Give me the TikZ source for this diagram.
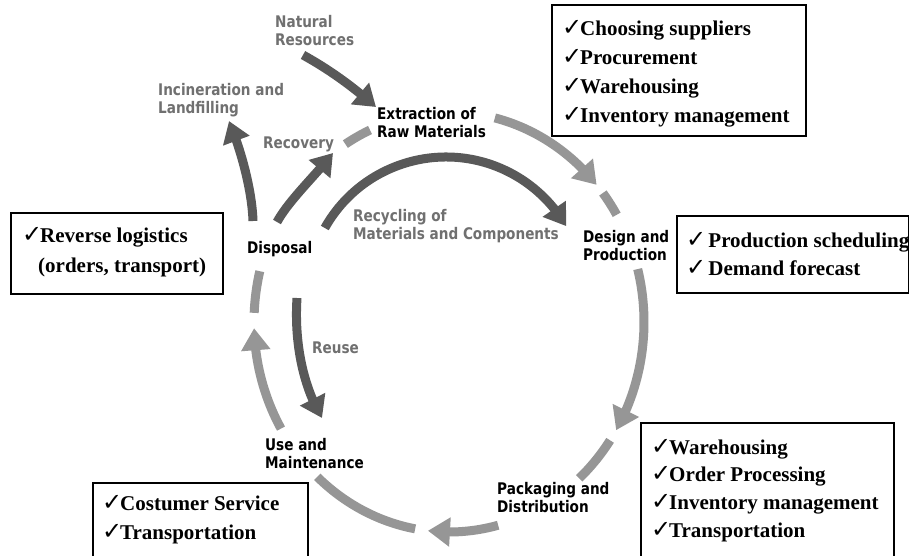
\documentclass[tikz,border=0pt]{standalone}
\usepackage{fontspec}
\setmainfont{Liberation Serif}
\newfontfamily\lblfont{DejaVu Sans}[FakeStretch=0.85]
\newfontfamily\symfont{DejaVu Sans}
\usetikzlibrary{arrows.meta,bending,calc}
\definecolor{cyclegray}{HTML}{969696}
\definecolor{darkarrow}{HTML}{595959}
\definecolor{labelgray}{HTML}{707070}
\newcommand{\ckm}[1][18pt]{\makebox[#1][l]{\smash{\fontsize{24}{24}\symfont ✓}}}
\newcommand{\lstrut}{\rule{0pt}{12.2pt}}
\newcommand{\bstrut}{\rule{0pt}{15pt}}
\tikzset{
  stage/.style={inner sep=0pt, anchor=north west, align=left, text=black,
    font=\fontsize{16}{18}\lblfont\bfseries},
  graylbl/.style={stage, text=labelgray},
  cyc/.style={draw=cyclegray, line width=9pt},
  cycarrow/.style={cyc, -{Triangle[width=28pt,length=22pt]}},
  darkarr/.style={draw=darkarrow, line width=9pt, -{Triangle[width=27pt,length=21pt]}},
  infobox/.style={draw=black, line width=2pt, anchor=north west, inner sep=0pt},
  boxtext/.style={inner sep=0pt, anchor=north west, align=left,
    font=\fontsize{21}{#1}\selectfont\bfseries},
}
\begin{document}
\begin{tikzpicture}[x=1pt,y=-1pt]
\useasboundingbox (0,0) rectangle (909,555);
\fill[white] (0,0) rectangle (909,555);

% centres of the cycle and of the recycling arc
\coordinate (C) at (449,322);
\coordinate (RC) at (446,296);

% stage labels
\node[stage] (ext) at (377,106.8) {\lstrut Extraction of\\Raw Materials};
\node[stage] (des) at (583,229.8) {\lstrut Design and\\Production};
\node[stage] (pkg) at (497,481.8) {\lstrut Packaging and\\Distribution};
\node[stage] (use) at (265,437.8) {\lstrut Use and\\Maintenance};
\node[stage] (dis) at (247,240.8) {\lstrut Disposal};

% gray labels
\node[graylbl] (nat) at (275,14.8) {\lstrut Natural\\Resources};
\node[graylbl] (inc) at (158,82.8) {\lstrut Incineration and\\Landfilling};
\node[graylbl] (rec) at (263,135.8) {\lstrut Recovery};
\node[graylbl] (recyc) at (353,208.8) {\lstrut Recycling of\\Materials and Components};
\node[graylbl] (reu) at (312,340.8) {\lstrut Reuse};

% main cycle
\draw[cycarrow] ($(C)+(-76.4:195 and 210)$) arc[start angle=-76.4, end angle=-40.8, x radius=195, y radius=210];
\draw[cyc] ($(C)+(-37.9:195 and 210)$) arc[start angle=-37.9, end angle=-30.7, x radius=195, y radius=210];
\draw[cycarrow] ($(C)+(-14.6:195 and 210)$) arc[start angle=-14.6, end angle=31.0, x radius=195, y radius=210];
\draw[cyc] ($(C)+(34.3:195 and 210)$) arc[start angle=34.3, end angle=48.1, x radius=195, y radius=210];
\draw[cycarrow] ($(C)+(75.4:195 and 210)$) arc[start angle=75.4, end angle=96.2, x radius=195, y radius=210];
\draw[cyc] ($(C)+(100:195 and 210)$) arc[start angle=100, end angle=132.5, x radius=195, y radius=210];
\draw[cycarrow] ($(C)+(149.5:195 and 210)$) arc[start angle=149.5, end angle=178.3, x radius=195, y radius=210];
\draw[cyc] ($(C)+(182.5:195 and 210)$) arc[start angle=182.5, end angle=194, x radius=195, y radius=210];
\draw[cyc] ($(C)+(237.9:195 and 210)$) arc[start angle=237.9, end angle=246.1, x radius=195, y radius=210];

% dark arrows
\coordinate (natS) at (303,55);
\coordinate (natE) at (376,107);
\draw[darkarr] (natS) .. controls (330,70) and (352,86) .. (natE);
\coordinate (incS) at (253,221);
\coordinate (incE) at (229,121);
\draw[darkarr] (incS) .. controls (252,190) and (241,150) .. (incE);
\coordinate (recS) at (277,222);
\coordinate (recE) at (333,153);
\draw[darkarr] (recS) .. controls (289,200) and (316,175) .. (recE);
\draw[darkarr] ($(RC)+(-150.7:139)$) arc[start angle=-150.7, end angle=-30.2, radius=139];
\coordinate (reuS) at (297,298);
\coordinate (reuE) at (322,418);
\draw[darkarr] (reuS) .. controls (294,345) and (304,388) .. (reuE);

% info boxes
\node[infobox, minimum width=254, minimum height=131] (b1) at (551,4) {};
\node[boxtext=29] (t1) at (562,20) {\bstrut\ckm Choosing suppliers\\\ckm Procurement\\\ckm Warehousing\\\ckm Inventory management};

\node[infobox, minimum width=212, minimum height=81] (b2) at (10,212) {};
\node[boxtext=30] (t2) at (22,227) {\bstrut\ckm Reverse logistics\\\hspace*{16pt}(orders, transport)};

\node[infobox, minimum width=232, minimum height=77] (b3) at (676,215) {};
\node[boxtext=28] (t3) at (686,232) {\bstrut\ckm[17pt] Production scheduling\\\ckm[17pt] Demand forecast};

\node[infobox, minimum width=253, minimum height=134] (b4) at (640,422) {};
\node[boxtext=27.7] (t4) at (651,439) {\bstrut\ckm Warehousing\\\ckm Order Processing\\\ckm Inventory management\\\ckm Transportation};

\node[infobox, minimum width=215, minimum height=74] (b5) at (92,482) {};
\node[boxtext=29] (t5) at (102,495) {\bstrut\ckm Costumer Service\\\ckm Transportation};
\end{tikzpicture}
\end{document}
